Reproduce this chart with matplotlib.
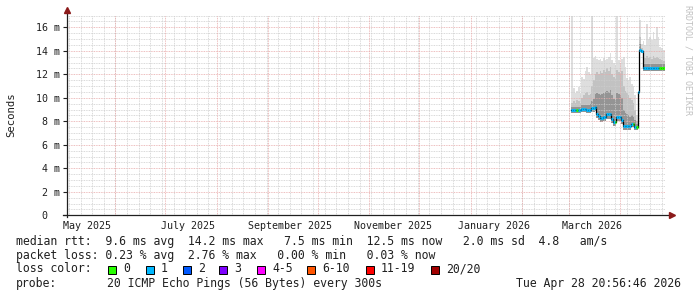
import matplotlib
matplotlib.use("Agg")
import matplotlib.pyplot as plt
import matplotlib.dates as mdates
from matplotlib.patches import Rectangle
import numpy as np
import pandas as pd

# --- data (ms), one value per day from Mar 3 2026 ---
median_ms = [8.95, 8.95, 8.95, 8.95, 8.95, 8.95, 9.05, 9.05, 9.05, 9.0, 9.0, 9.0,
             9.1, 9.1, 9.2, 8.6, 8.45, 8.3, 8.3, 8.4, 8.4, 8.6, 8.6, 8.6, 8.2,
             7.9, 7.9, 8.4, 8.4, 8.4, 8.1, 7.6, 7.6, 7.6, 7.6, 7.6, 7.8, 7.8,
             7.5, 7.5, 10.5, 14.1, 14.0, 12.5, 12.5, 12.5, 12.5, 12.5, 12.5,
             12.5, 12.5, 12.5, 12.5, 12.5, 12.5, 12.5]
smoke_lo = [8.7, 8.7, 8.7, 8.7, 8.7, 8.7, 8.8, 8.8, 8.8, 8.75, 8.75, 8.75,
            8.8, 8.8, 8.9, 8.3, 8.1, 7.95, 7.95, 8.05, 8.05, 8.2, 8.2, 8.2, 7.85,
            7.6, 7.6, 8.05, 8.05, 8.05, 7.8, 7.3, 7.3, 7.3, 7.3, 7.3, 7.5, 7.5,
            7.25, 7.25, 10.5, 13.9, 13.8, 12.3, 12.3, 12.3, 12.3, 12.3, 12.3,
            12.3, 12.3, 12.3, 12.3, 12.3, 12.3, 12.3]
smoke_dense = [9.2, 9.2, 9.2, 9.2, 9.2, 9.2, 9.35, 9.4, 9.4, 9.4, 9.35, 9.45,
               9.7, 9.9, 10.3, 10.4, 10.3, 10.2, 10.3, 10.4, 10.5, 10.6, 10.5, 10.7,
               10.2, 9.9, 9.8, 10.4, 10.3, 10.2, 10.0, 9.0, 8.7, 8.6, 8.5, 8.4,
               8.5, 8.4, 8.1, 7.8, 10.5, 14.6, 14.1, 12.9, 12.9, 12.9, 12.9, 12.9,
               12.9, 12.9, 12.9, 12.9, 12.9, 12.9, 12.9, 12.9]
smoke_mid = [9.6, 9.7, 9.6, 9.8, 9.7, 9.6, 10.0, 10.2, 10.4, 10.5, 10.2, 10.3,
             11.0, 11.5, 12.0, 12.2, 12.0, 12.3, 12.1, 12.4, 12.2, 12.5, 12.3, 12.6,
             12.0, 11.8, 11.6, 12.4, 12.2, 12.0, 12.3, 11.0, 10.6, 10.4, 10.2, 10.0,
             9.8, 9.6, 9.0, 8.0, 10.5, 15.2, 14.2, 13.5, 13.4, 13.6, 13.4, 13.5,
             13.3, 13.6, 13.4, 13.5, 13.4, 13.3, 13.2, 13.1]
smoke_hi = [17.0, 10.8, 10.4, 10.6, 10.9, 10.3, 11.8, 11.6, 12.3, 12.6, 12.2, 12.0,
            17.0, 13.4, 13.6, 13.3, 13.2, 13.3, 13.1, 13.4, 13.2, 13.3, 13.5, 13.8,
            13.2, 13.0, 12.8, 17.0, 13.2, 13.0, 13.3, 13.5, 12.6, 11.7, 11.5, 11.8,
            11.2, 11.0, 10.2, 8.5, 10.6, 16.6, 14.6, 14.8, 14.5, 16.3, 15.0, 15.2,
            14.9, 15.6, 15.0, 16.0, 15.2, 14.3, 14.2, 14.1]
# loss bucket index per day (0 -> "0", 1 -> "1", ...)
loss_bucket = [1, 1, 1, 0, 1, 1, 1, 1, 1, 1, 1, 1, 1, 1, 1, 1, 1, 1, 1, 1, 1, 1,
               1, 1, 1, 1, 0, 1, 1, 1, 1, 1, 1, 1, 1, 1, 1, 0, 1, 0, 1, 1, 1, 1,
               1, 1, 1, 1, 1, 1, 1, 1, 1, 0, 0, 0]

loss_labels = ["0", "1", "2", "3", "4-5", "6-10", "11-19", "20/20"]
loss_colors = ["#26ff00", "#00b8ff", "#0059ff", "#7e00ff", "#ff00ff",
               "#ff5500", "#ff0000", "#a10000"]

y_ticks = [0, 2, 4, 6, 8, 10, 12, 14, 16]
y_ticklabels = ["0  ", "2 m", "4 m", "6 m", "8 m", "10 m", "12 m", "14 m", "16 m"]
x_label_months = ["2025-05-16", "2025-07-16", "2025-09-15", "2025-11-16",
                  "2026-01-16", "2026-03-16"]
x_labels = ["May 2025", "July 2025", "September 2025", "November 2025",
            "January 2026", "March 2026"]

legend_rows = [
    "median rtt:  9.6 ms avg  14.2 ms max   7.5 ms min  12.5 ms now   2.0 ms sd  4.8   am/s",
    "packet loss: 0.23 % avg  2.76 % max   0.00 % min   0.03 % now",
]
probe_text = "20 ICMP Echo Pings (56 Bytes) every 300s"
stamp_text = "Tue Apr 28 20:56:46 2026"

W, H = 697, 297
MONO = "DejaVu Sans Mono"

end = pd.Timestamp("2026-04-28 20:56:46")
start = end - pd.Timedelta(days=360)
edges = list(pd.date_range("2026-03-03 12:00", periods=len(median_ms), freq="D")) + [end]
t = mdates.date2num([e.to_pydatetime() for e in edges])


def ext(a):
    return list(a) + [a[-1]]


fig = plt.figure(figsize=(W / 100, H / 100), dpi=100)
ax = fig.add_axes([67 / W, 1 - 215.3 / H, (665 - 67) / W, (215.3 - 15) / H])
for s in ax.spines.values():
    s.set_visible(False)
x0 = mdates.date2num(start.to_pydatetime())
x1 = mdates.date2num(end.to_pydatetime())
ax.set_xlim(x0, x1)
ax.set_ylim(0, 17.05)

# smoke
ax.fill_between(t, ext(smoke_lo), ext(smoke_hi), step="post", color="#dedede", lw=0, zorder=1)
ax.fill_between(t, ext(smoke_lo), ext(smoke_mid), step="post", color="#c2c2c2", lw=0, zorder=1)
ax.fill_between(t, ext(smoke_lo), ext(smoke_dense), step="post", color="#949494", lw=0, zorder=1)

# grid
GRID = "#cdcdcd"
MGRID = "#e8a8a8"
for v in np.arange(0.5, 17.01, 0.5):
    if v % 2:
        ax.axhline(v, color=GRID, lw=0.6, ls=(0, (1, 1)), zorder=2)
for v in y_ticks[1:]:
    ax.axhline(v, color=MGRID, lw=0.6, ls=(0, (1, 1)), zorder=2)
months = pd.date_range(start, end, freq="MS")
for w in pd.date_range(start.normalize(), end, freq="W-MON"):
    if w not in months:
        ax.axvline(mdates.date2num(w.to_pydatetime()), color=GRID, lw=0.6,
                   ls=(0, (1, 1)), zorder=2)
for m in months:
    ax.axvline(mdates.date2num(m.to_pydatetime()), color=MGRID, lw=0.6,
               ls=(0, (1, 1)), zorder=2)

# median line
ax.step(t, ext(median_ms), where="post", color="black", lw=0.9, zorder=4)
for i, v in enumerate(median_ms):
    ax.hlines(v, t[i], t[i + 1], color=loss_colors[loss_bucket[i]], lw=2.2, zorder=5)

# axes with arrows
ax.plot([0, 0], [-0.01, 1.02], transform=ax.transAxes, color="#202020", lw=0.9, clip_on=False, zorder=6)
ax.plot([-0.007, 1.005], [0, 0], transform=ax.transAxes, color="#202020", lw=0.9, clip_on=False, zorder=6)
ax.plot(0, 1.025, marker="^", ms=4, color="#8b1a1a", transform=ax.transAxes, clip_on=False, zorder=7)
ax.plot(1.011, 0, marker=">", ms=4, color="#8b1a1a", transform=ax.transAxes, clip_on=False, zorder=7)

ax.set_yticks(y_ticks)
ax.set_yticklabels(y_ticklabels, fontfamily=MONO, fontsize=7.2, color="#202020")
ax.tick_params(axis="y", length=3, width=0.8, color="#202020", pad=2)
ax.set_xticks(mdates.date2num([pd.Timestamp(d).to_pydatetime() for d in x_label_months]))
ax.set_xticklabels(x_labels, fontfamily=MONO, fontsize=7.2, color="#202020")
ax.tick_params(axis="x", length=0, pad=4)

# side texts
fig.text(11 / W, 1 - 114.5 / H, "Seconds", rotation=90, ha="center", va="center",
         fontfamily=MONO, fontsize=7.7, color="#202020")
fig.text(688 / W, 1 - 5 / H, "RRDTOOL / TOBI OETIKER", rotation=270, ha="center", va="top",
         fontfamily=MONO, fontsize=6, color="#c0c0c0")

# legend
fs = 8.3
for row, txt in zip([241, 255], legend_rows):
    fig.text(16 / W, 1 - row / H, txt, ha="left", va="center", fontfamily=MONO, fontsize=fs, color="#202020")
fig.text(16 / W, 1 - 269 / H, "loss color:", ha="left", va="center", fontfamily=MONO, fontsize=fs, color="#202020")
sq_x = [108, 146, 183, 219, 257, 307, 366, 431]
for x, lab, c in zip(sq_x, loss_labels, loss_colors):
    fig.patches.append(Rectangle((x / W, 1 - 273.5 / H), 7.5 / W, 8 / H, transform=fig.transFigure,
                                 facecolor=c, edgecolor="black", lw=0.7))
    fig.text((x + 15) / W, 1 - 269 / H, lab, ha="left", va="center", fontfamily=MONO, fontsize=fs, color="#202020")
fig.text(16 / W, 1 - 283 / H, "probe:", ha="left", va="center", fontfamily=MONO, fontsize=fs, color="#202020")
fig.text(107 / W, 1 - 283 / H, probe_text, ha="left", va="center", fontfamily=MONO, fontsize=fs, color="#202020")
fig.text(681 / W, 1 - 283 / H, stamp_text, ha="right", va="center", fontfamily=MONO, fontsize=fs, color="#202020")

fig.savefig("out.png", dpi=100, facecolor="white")
